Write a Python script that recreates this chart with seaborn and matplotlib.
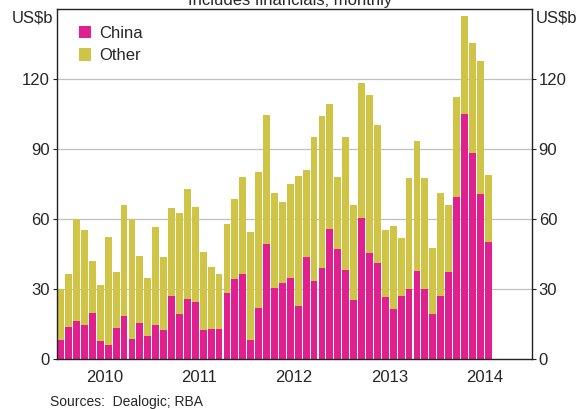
import pandas as pd
import numpy as np
import matplotlib.pyplot as plt
import seaborn as sns

# monthly, Jan 2010 .. Jul 2014 (US$b)
total = [30, 36.3, 60, 55.3, 42.1, 31.6, 52.1, 37.1, 66.1, 59.9, 44.3, 34.9,
         56.7, 43.6, 64.7, 62.4, 73, 65, 45.9, 39.4, 36.6, 57.9, 68.6, 78,
         54.3, 80, 104.7, 71.3, 67.3, 75, 78.6, 81, 95, 104, 109.1, 78,
         95.3, 66.1, 118.3, 113.1, 100.1, 55.4, 57, 51.7, 77.4, 93.4, 77.7, 47.7,
         71.3, 66, 112.1, 147, 135.3, 127.6, 78.9]
china = [8.1, 13.9, 16.3, 14.6, 19.9, 7.7, 6.0, 13.3, 18.6, 8.7, 15.3, 10,
         14.6, 12.4, 27.1, 19.4, 25.7, 24.6, 12.4, 12.9, 12.9, 28.4, 34.4, 36.6,
         8.1, 22, 49.4, 30.6, 32.6, 34.9, 22.9, 43.7, 33.6, 39.1, 55.6, 47.1,
         38.1, 25.4, 60.3, 45.6, 41.3, 26.7, 21.4, 27.1, 30.1, 37.9, 29.9, 19.1,
         27.1, 37.4, 69.4, 105.1, 88.1, 70.9, 50.1]
years = ["2010", "2011", "2012", "2013", "2014"]
yticks = [0, 30, 60, 90, 120]

df = pd.DataFrame({"month": np.arange(len(total)), "total": total, "china": china})

sns.set_style("white")
plt.rcParams['font.family'] = ['Liberation Sans', 'DejaVu Sans']

fig = plt.figure(figsize=(5.8, 4.09), dpi=100)
ax = fig.add_axes([0.0978, 0.1222, 0.819, 0.8558])

other_col = "#cfc445"
china_col = "#e0208e"

sns.barplot(data=df, x="month", y="total", native_scale=True, color=other_col,
            saturation=1, width=0.86, edgecolor="none", ax=ax, label="Other")
sns.barplot(data=df, x="month", y="china", native_scale=True, color=china_col,
            saturation=1, width=0.86, edgecolor="none", ax=ax, label="China")

ax.set_xlim(-0.5, 59.5)
ax.set_ylim(0, 150)
ax.set_xlabel("")
ax.set_ylabel("")

for v in yticks[1:]:
    ax.axhline(v, color="#c0c0c0", lw=0.9, zorder=0)
ax.set_axisbelow(True)

ax.set_yticks(yticks)
ax.set_yticklabels([str(v) for v in yticks])
ax.tick_params(axis="y", left=True, right=True, labelleft=True, labelright=True,
               length=3, color="#222222", labelsize=12, pad=2)

ax.set_xticks([11.5, 23.5, 35.5, 47.5])
ax.set_xticklabels([])
ax.set_xticks([5.5 + 12 * i for i in range(5)], minor=True)
ax.set_xticklabels(years, minor=True)
ax.tick_params(axis="x", which="major", direction="in", length=4, color="#333333")
ax.tick_params(axis="x", which="minor", length=0, labelsize=12, pad=8)

for s in ax.spines.values():
    s.set_color("#222222")
    s.set_linewidth(1)

ax.text(-0.008, 0.974, "US$b", transform=ax.transAxes, ha="right", va="center", fontsize=12)
ax.text(1.008, 0.974, "US$b", transform=ax.transAxes, ha="left", va="center", fontsize=12)

h, l = ax.get_legend_handles_labels()
order = [l.index("China"), l.index("Other")]
ax.legend([h[i] for i in order], [l[i] for i in order], loc="upper left",
          bbox_to_anchor=(0.015, 0.995), frameon=False, fontsize=12,
          handlelength=0.75, handleheight=0.75, handletextpad=0.45, labelspacing=0.45)

fig.text(0.5, 1.0, "Includes financials; monthly", ha="center", va="center", fontsize=12)
fig.text(0.086, 0.018, "Sources:  Dealogic; RBA", ha="left", va="center", fontsize=10)

fig.savefig("out.png", dpi=100)
